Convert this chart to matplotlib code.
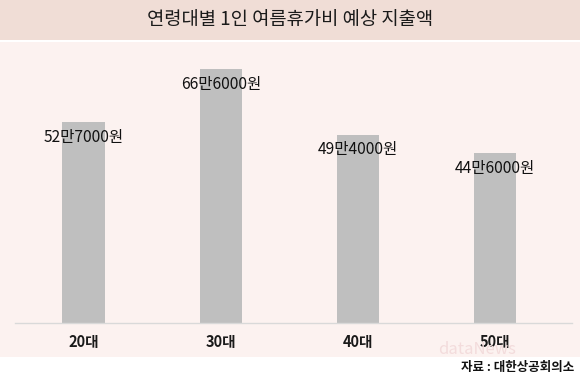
import matplotlib.pyplot as plt
from matplotlib.patches import Rectangle

plt.rcParams["font.family"] = ["Noto Sans CJK KR", "DejaVu Sans"]

categories = ["20대", "30대", "40대", "50대"]
values = [527000, 666000, 494000, 446000]
value_labels = ["52만7000원", "66만6000원", "49만4000원", "44만6000원"]

W, H = 580, 384
fig = plt.figure(figsize=(W / 100, H / 100), dpi=100)
fig.patch.set_facecolor("white")

# title band and chart background
fig.add_artist(Rectangle((0, 1 - 40 / H), 1, 40 / H, transform=fig.transFigure,
                         facecolor="#f0ddd6", edgecolor="none", zorder=0))
fig.add_artist(Rectangle((0, 1 - 357 / H), 1, 315 / H, transform=fig.transFigure,
                         facecolor="#fcf2f0", edgecolor="none", zorder=0))

fig.text(0.5, 1 - 20 / H, "연령대별 1인 여름휴가비 예상 지출액", ha="center", va="center",
         fontsize=13.5, color="#1a1a1a")

ax = fig.add_axes([15 / W, 61 / H, 557 / W, 281 / H])
ax.set_facecolor("none")
x = list(range(len(categories)))
ax.bar(x, values, width=0.31, color="#bfbfbf", zorder=2)
ax.set_xlim(-0.5, 3.56)
ax.set_ylim(0, 737000)

for xi, v, lab in zip(x, values, value_labels):
    ax.annotate(lab, (xi, v), xytext=(0, -11), textcoords="offset points",
                ha="center", va="center", fontsize=11.2, color="#111111", zorder=3)

for side in ["top", "right", "left"]:
    ax.spines[side].set_visible(False)
ax.spines["bottom"].set_color("#d9d9d9")
ax.spines["bottom"].set_linewidth(1.0)
ax.set_yticks([])
ax.set_xticks(x)
ax.set_xticklabels(categories, fontsize=10.5, fontweight="bold", color="#1a1a1a")
ax.tick_params(axis="x", length=0, pad=8)

# faint watermark
fig.text(516 / W, 1 - 349 / H, "dataNews", ha="right", va="center", fontsize=12,
         color="#f3dcdc", zorder=1)

fig.text(574 / W, 1 - 367 / H, "자료 : 대한상공회의소", ha="right", va="center",
         fontsize=9, fontweight="bold", color="#111111")

fig.savefig("out.png", dpi=100)
